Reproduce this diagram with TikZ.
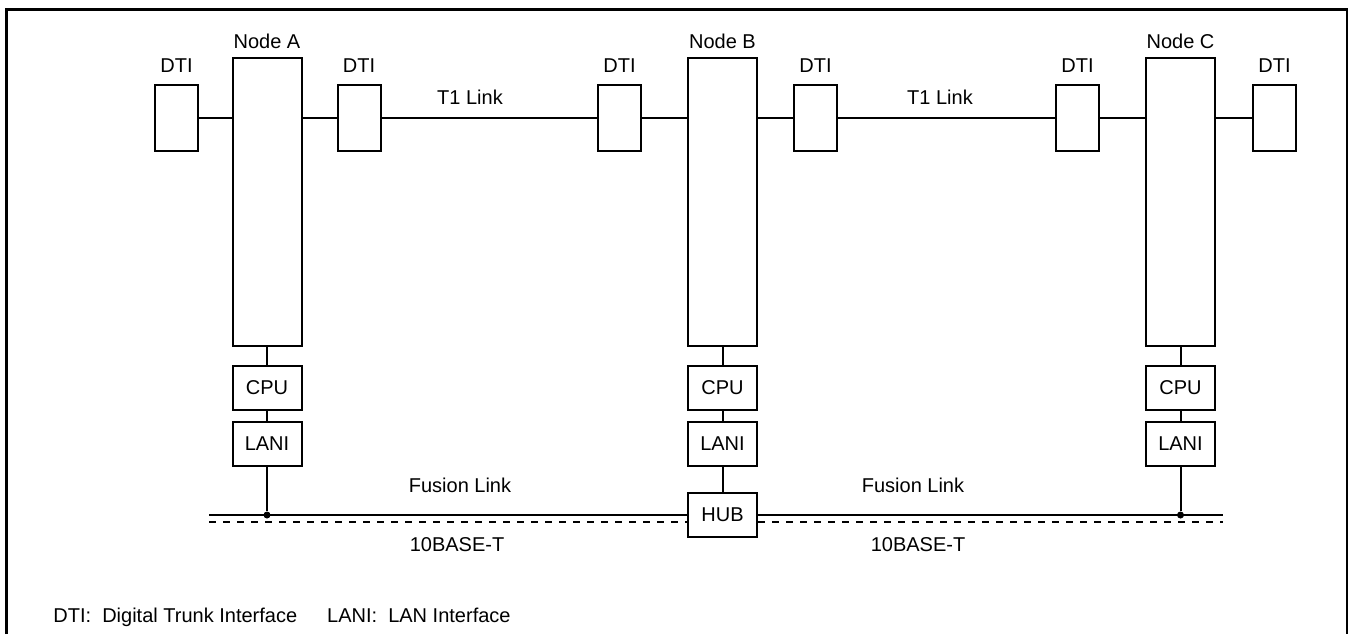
\documentclass[tikz,border=0pt]{standalone}
\usepackage{fontspec}
\setmainfont{Liberation Sans}
\usetikzlibrary{positioning}
\tikzset{
  nodebox/.style={rectangle, draw=black, line width=1pt, minimum width=34.5pt,
    minimum height=144pt, inner sep=0pt},
  dtibox/.style={rectangle, draw=black, line width=1pt, minimum width=21.5pt,
    minimum height=33pt, inner sep=0pt},
  unitbox/.style={rectangle, draw=black, line width=1pt, minimum width=34.5pt,
    minimum height=22pt, inner sep=0pt},
  tag/.style={inner sep=0pt},
  link/.style={line width=1pt},
  lanline/.style={line width=1pt, dash pattern=on 3.5pt off 3.5pt},
  tap/.style={circle, fill=black, minimum size=3.5pt, inner sep=0pt}
}
\begin{document}
\begin{tikzpicture}[x=0.5pt, y=-0.5pt, font=\fontsize{10}{12}\selectfont,
    node distance=9pt and 18pt]
    \useasboundingbox (0,0) rectangle (1349,634);
    \draw[line width=1.3pt] (6.5,634) -- (6.5,9.5) -- (1347,9.5) -- (1347,634);
    % nodes
    \node[nodebox] (nodeA) at (267,202) {};
    \node[nodebox] (nodeB) at (722.5,202) {};
    \node[nodebox] (nodeC) at (1180.5,202) {};
    \node[tag, above=4pt of nodeA] (labA) {Node A};
    \node[tag, above=4pt of nodeB] (labB) {Node B};
    \node[tag, above=4pt of nodeC] (labC) {Node C};
    % trunk interfaces
    \node[dtibox] (dtiA1) at (176.5,118) {};
    \node[dtibox] (dtiA2) at (359,118) {};
    \node[dtibox] (dtiB1) at (619.5,118) {};
    \node[dtibox] (dtiB2) at (815.5,118) {};
    \node[dtibox] (dtiC1) at (1077.5,118) {};
    \node[dtibox] (dtiC2) at (1274.5,118) {};
    \foreach \d in {dtiA1,dtiA2,dtiB1,dtiB2,dtiC1,dtiC2}
      \node[tag, above=5.5pt of \d] {DTI};
    % cpu and lan interface
    \node[unitbox, below=of nodeA] (cpuA) {CPU};
    \node[unitbox, below=5pt of cpuA] (laniA) {LANI};
    \node[unitbox, below=of nodeB] (cpuB) {CPU};
    \node[unitbox, below=5pt of cpuB] (laniB) {LANI};
    \node[unitbox, below=of nodeC] (cpuC) {CPU};
    \node[unitbox, below=5pt of cpuC] (laniC) {LANI};
    \node[unitbox] (hub) at (722.5,515) {HUB};
    \coordinate (busL) at (209,515);
    \coordinate (busR) at (1223,515);
    \coordinate (dashL) at (209,521.5);
    \coordinate (dashR) at (1223,521.5);
    \node[tap] (tapA) at (laniA |- busL) {};
    \node[tap] (tapC) at (laniC |- busL) {};
    % T1 side
    \draw[link] (dtiA1) -- (dtiA1 -| nodeA.west);
    \draw[link] (dtiA2) -- (dtiA2 -| nodeA.east);
    \draw[link] (dtiA2) -- (dtiB1);
    \draw[link] (dtiB1) -- (dtiB1 -| nodeB.west);
    \draw[link] (dtiB2) -- (dtiB2 -| nodeB.east);
    \draw[link] (dtiB2) -- (dtiC1);
    \draw[link] (dtiC1) -- (dtiC1 -| nodeC.west);
    \draw[link] (dtiC2) -- (dtiC2 -| nodeC.east);
    % LAN side
    \draw[link] (nodeA) -- (cpuA) -- (laniA) -- (tapA);
    \draw[link] (nodeB) -- (cpuB) -- (laniB) -- (hub);
    \draw[link] (nodeC) -- (cpuC) -- (laniC) -- (tapC);
    \draw[link] (busL) -- (hub.west);
    \draw[link] (hub.east) -- (busR);
    \draw[lanline] (dashL) -- (dashL -| hub.west);
    \draw[lanline] (dashL -| hub.east) -- (dashR);
    % labels
    \node[tag] (t1a) at (470,97) {T1 Link};
    \node[tag] (t1b) at (940,97) {T1 Link};
    \node[tag] (fusa) at (460,485) {Fusion Link};
    \node[tag] (fusb) at (913,485) {Fusion Link};
    \node[tag] (basea) at (457,545) {10BASE-T};
    \node[tag] (baseb) at (918,545) {10BASE-T};
    \node[tag, anchor=west] (legend) at (53,617)
      {DTI:\ \ Digital Trunk Interface\hspace{15pt}LANI:\ \ LAN Interface};
\end{tikzpicture}
\end{document}
